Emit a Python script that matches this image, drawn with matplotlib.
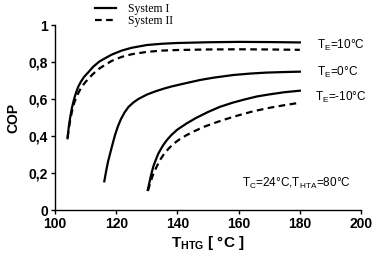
import matplotlib
matplotlib.use('Agg')
import matplotlib.pyplot as plt
from matplotlib.ticker import FuncFormatter

plt.rcParams['font.family'] = 'Liberation Sans'
plt.rcParams['mathtext.fontset'] = 'custom'
plt.rcParams['mathtext.rm'] = 'Liberation Sans'
plt.rcParams['mathtext.bf'] = 'Liberation Sans:bold'

# TE = 10 C
t_10_s1 = [104.1, 104.5, 105, 105.5, 106, 106.5, 107, 107.6, 108.5, 109.5, 110.9, 112.5, 114.5, 116.3,
           118.5, 121.8, 125, 130, 135, 140, 150, 160, 170, 180]
cop_10_s1 = [0.388, 0.45, 0.505, 0.55, 0.585, 0.615, 0.64, 0.667, 0.695, 0.72, 0.745, 0.775, 0.803, 0.82,
             0.84, 0.862, 0.877, 0.892, 0.899, 0.903, 0.907, 0.909, 0.908, 0.906]
t_10_s2 = [104.1, 104.5, 105, 105.5, 106, 106.5, 107, 107.6, 108.5, 109.5, 110.9, 112.5, 114.5, 116.3,
           118.5, 121.8, 125, 130, 135, 140, 150, 160, 170, 180]
cop_10_s2 = [0.39, 0.44, 0.49, 0.53, 0.565, 0.59, 0.61, 0.632, 0.66, 0.683, 0.71, 0.737, 0.765, 0.784,
             0.806, 0.828, 0.842, 0.855, 0.862, 0.865, 0.868, 0.869, 0.868, 0.866]

# TE = 0 C
t_0_s1 = [116.1, 116.7, 117.3, 118, 118.7, 119.6, 120.5, 121.5, 122.7, 124, 125.5, 127.2, 130, 132.7,
          135.5, 138.1, 142, 147.4, 152, 158.3, 164, 169.2, 175, 180]
cop_0_s1 = [0.155, 0.21, 0.26, 0.305, 0.35, 0.405, 0.45, 0.49, 0.527, 0.557, 0.58, 0.6, 0.624, 0.641,
            0.656, 0.668, 0.683, 0.703, 0.716, 0.73, 0.738, 0.743, 0.746, 0.748]

# TE = -10 C
t_m10_s1 = [130.3, 130.8, 131.4, 132.1, 132.9, 133.7, 134.6, 135.4, 136.5, 138, 140, 143, 146, 150,
            153.9, 158, 162, 166, 170, 175, 180]
cop_m10_s1 = [0.108, 0.145, 0.19, 0.234, 0.27, 0.303, 0.33, 0.352, 0.377, 0.405, 0.435, 0.468, 0.497, 0.53,
              0.558, 0.58, 0.598, 0.614, 0.625, 0.637, 0.645]
t_m10_s2 = [130.4, 131, 132, 133.2, 134.3, 135.5, 137, 138.5, 140.5, 143, 146, 149, 152, 155,
            159.3, 164.8, 170.2, 175, 180]
cop_m10_s2 = [0.105, 0.14, 0.19, 0.234, 0.27, 0.3, 0.33, 0.355, 0.38, 0.405, 0.43, 0.452, 0.47, 0.487,
              0.509, 0.534, 0.553, 0.567, 0.58]

fig = plt.figure(figsize=(3.73, 2.61), dpi=100)
ax = fig.add_axes([0.1475, 0.1954, 0.8205, 0.7086])

lw = 1.6
dash = (0, (3, 2))
l1, = ax.plot(t_10_s1, cop_10_s1, color='black', lw=lw)
l2, = ax.plot(t_10_s2, cop_10_s2, color='black', lw=lw, linestyle=dash)
ax.plot(t_0_s1, cop_0_s1, color='black', lw=lw)
ax.plot(t_m10_s1, cop_m10_s1, color='black', lw=lw)
ax.plot(t_m10_s2, cop_m10_s2, color='black', lw=lw, linestyle=dash)

ax.set_xlim(100, 200)
ax.set_ylim(0, 1)
ax.set_xticks([100, 120, 140, 160, 180, 200])
ax.set_yticks([0, 0.2, 0.4, 0.6, 0.8, 1])
ax.yaxis.set_major_formatter(FuncFormatter(lambda v, p: ('%g' % round(v, 1)).replace('.', ',')))
for s in ['top', 'right']:
    ax.spines[s].set_visible(False)
for s in ['left', 'bottom']:
    ax.spines[s].set_linewidth(1.0)
ax.tick_params(direction='out', length=3, width=1, labelsize=10, pad=2)
for lab in ax.get_xticklabels() + ax.get_yticklabels():
    lab.set_fontweight('bold')

ax.set_ylabel('COP', fontsize=10, fontweight='bold', labelpad=6)
ax.set_xlabel(r'$\mathbf{T_{HTG}}$ [ °C ]', fontsize=11, fontweight='bold', labelpad=2)

ax.text(185.5, 0.892, r'T$_\mathrm{E}$=10°C', fontsize=8.5, va='center', ha='left')
ax.text(185.5, 0.742, r'T$_\mathrm{E}$=0°C', fontsize=8.5, va='center', ha='left')
ax.text(185, 0.607, r'T$_\mathrm{E}$=-10°C', fontsize=8.5, va='center', ha='left')
ax.text(161, 0.146, r'T$_\mathrm{C}$=24°C,T$_\mathrm{HTA}$=80°C', fontsize=8.5, va='center', ha='left')

fig.legend([l1, l2], ['System I', 'System II'], loc='upper left',
           bbox_to_anchor=(0.225, 1.03), frameon=False,
           prop={'family': 'Liberation Serif', 'size': 8.5},
           handlelength=1.8, handletextpad=1.0, labelspacing=0.05)

fig.savefig('out.png', dpi=100)
